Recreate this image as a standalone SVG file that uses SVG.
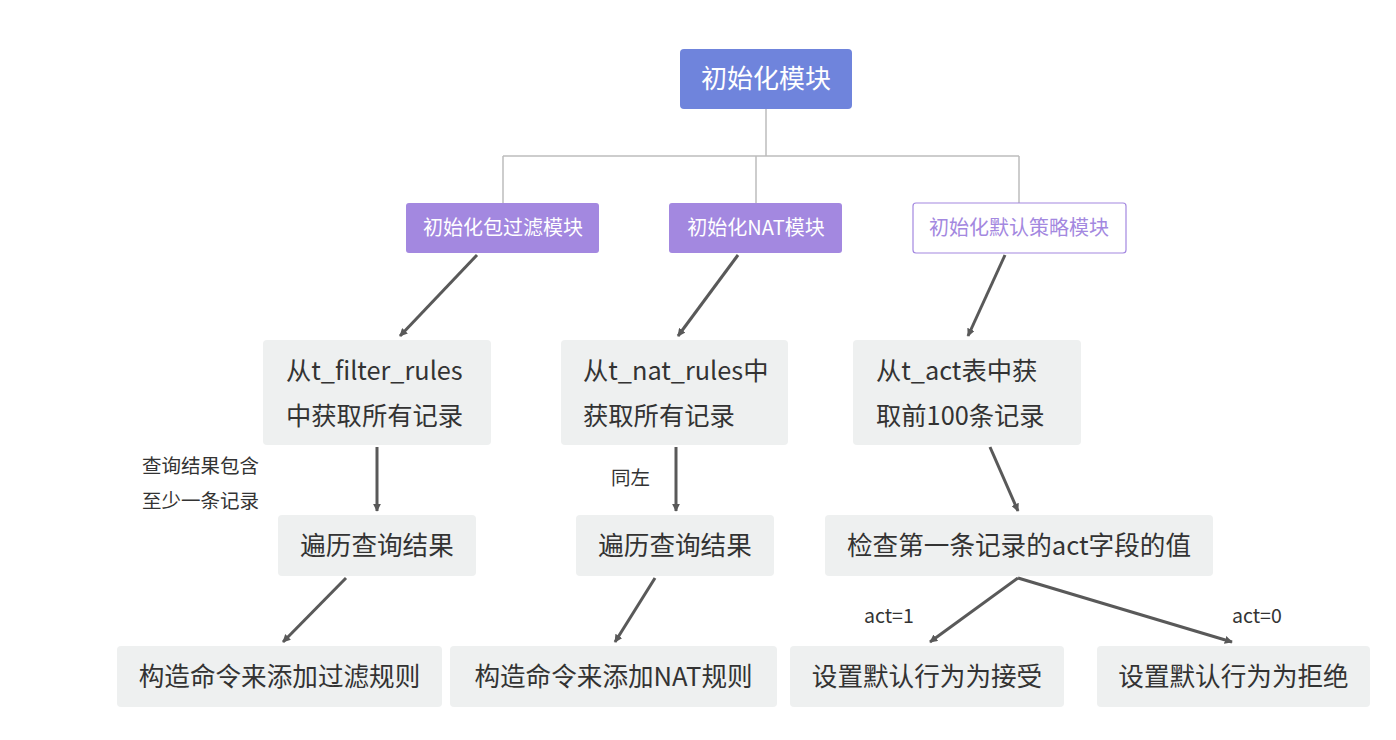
<svg xmlns="http://www.w3.org/2000/svg" width="1396" height="740" viewBox="0 0 1396 740">
<defs>
<marker id="ah" viewBox="0 0 10 10" refX="9" refY="5" markerWidth="8" markerHeight="8" markerUnits="userSpaceOnUse" orient="auto">
<path d="M0,0 L10,5 L0,10 z" fill="#595959"/>
</marker>
<style>
text{font-family:"Microsoft YaHei","Noto Sans CJK SC","Noto Sans",sans-serif;}
.top{fill:#6f84dc;}
.l2{fill:#a388e0;}
.l2o{fill:#fff;stroke:#a388e0;stroke-width:1.2;}
.box{fill:#eef0f0;}
.tw{fill:#fff;font-size:20px;text-anchor:middle;}
.tp{fill:#a388e0;font-size:20px;text-anchor:middle;}
.tt{fill:#fff;font-size:26px;text-anchor:middle;}
.t{fill:#333;font-size:25.3px;}
.tc{fill:#333;font-size:25.6px;text-anchor:middle;}
.lab{fill:#333;font-size:19.5px;}
.tree{stroke:#bdbdbd;stroke-width:1.5;fill:none;}
.arr{stroke:#595959;stroke-width:3;fill:none;marker-end:url(#ah);}
</style>
</defs>
<rect width="1396" height="740" fill="#fff"/>
<g id="connectors">
<path class="tree" d="M766,109 V156 M503,156 H1019 M503,156 V203 M756,156 V203 M1019,156 V203"/>
<line class="arr" x1="477" y1="255" x2="400" y2="336"/>
<line class="arr" x1="738" y1="255" x2="678" y2="336"/>
<line class="arr" x1="1005" y1="255" x2="968" y2="336"/>
<line class="arr" x1="377" y1="447" x2="377" y2="511"/>
<line class="arr" x1="676" y1="447" x2="676" y2="511"/>
<line class="arr" x1="990" y1="447" x2="1018" y2="511"/>
<line class="arr" x1="346" y1="578" x2="283" y2="642"/>
<line class="arr" x1="655" y1="578" x2="615" y2="642"/>
<line class="arr" x1="1018" y1="578" x2="930" y2="642"/>
<line class="arr" x1="1018" y1="578" x2="1232" y2="642"/>
</g>
<g id="labels">
<text class="lab" x="142" y="473">查询结果包含</text>
<text class="lab" x="142" y="508">至少一条记录</text>
<text class="lab" x="611" y="485">同左</text>
<text class="lab" x="864" y="623">act=1</text>
<text class="lab" x="1232" y="623">act=0</text>
</g>
<g id="n-root"><rect class="top" x="680" y="49" width="172" height="60" rx="4"/><text class="tt" x="766" y="88">初始化模块</text></g>
<g id="n-filter"><rect class="l2" x="406" y="203" width="193" height="50" rx="3"/><text class="tw" x="503" y="235">初始化包过滤模块</text></g>
<g id="n-nat"><rect class="l2" x="669" y="203" width="173" height="50" rx="3"/><text class="tw" x="756" y="235">初始化NAT模块</text></g>
<g id="n-default"><rect class="l2o" x="913" y="203" width="213" height="50" rx="3"/><text class="tp" x="1019" y="235">初始化默认策略模块</text></g>
<g id="n-f1"><rect class="box" x="263" y="340" width="228" height="105" rx="4"/><text class="t" x="286" y="380">从t_filter_rules</text><text class="t" x="286" y="425">中获取所有记录</text></g>
<g id="n-n1"><rect class="box" x="561" y="340" width="227" height="105" rx="4"/><text class="t" x="583" y="380">从t_nat_rules中</text><text class="t" x="583" y="425">获取所有记录</text></g>
<g id="n-d1"><rect class="box" x="853" y="340" width="228" height="105" rx="4"/><text class="t" x="876" y="380">从t_act表中获</text><text class="t" x="876" y="425">取前100条记录</text></g>
<g id="n-f2"><rect class="box" x="278" y="515" width="198" height="61" rx="4"/><text class="tc" x="377" y="555">遍历查询结果</text></g>
<g id="n-n2"><rect class="box" x="576" y="515" width="198" height="61" rx="4"/><text class="tc" x="675" y="555">遍历查询结果</text></g>
<g id="n-d2"><rect class="box" x="825" y="515" width="388" height="61" rx="4"/><text class="tc" x="1019" y="555">检查第一条记录的act字段的值</text></g>
<g id="n-f3"><rect class="box" x="117" y="646" width="325" height="61" rx="4"/><text class="tc" x="279.5" y="686">构造命令来添加过滤规则</text></g>
<g id="n-n3"><rect class="box" x="450" y="646" width="327" height="61" rx="4"/><text class="tc" x="613.5" y="686">构造命令来添加NAT规则</text></g>
<g id="n-d3"><rect class="box" x="790" y="646" width="274" height="61" rx="4"/><text class="tc" x="927" y="686">设置默认行为为接受</text></g>
<g id="n-d4"><rect class="box" x="1097" y="646" width="273" height="61" rx="4"/><text class="tc" x="1233.5" y="686">设置默认行为为拒绝</text></g>
</svg>
